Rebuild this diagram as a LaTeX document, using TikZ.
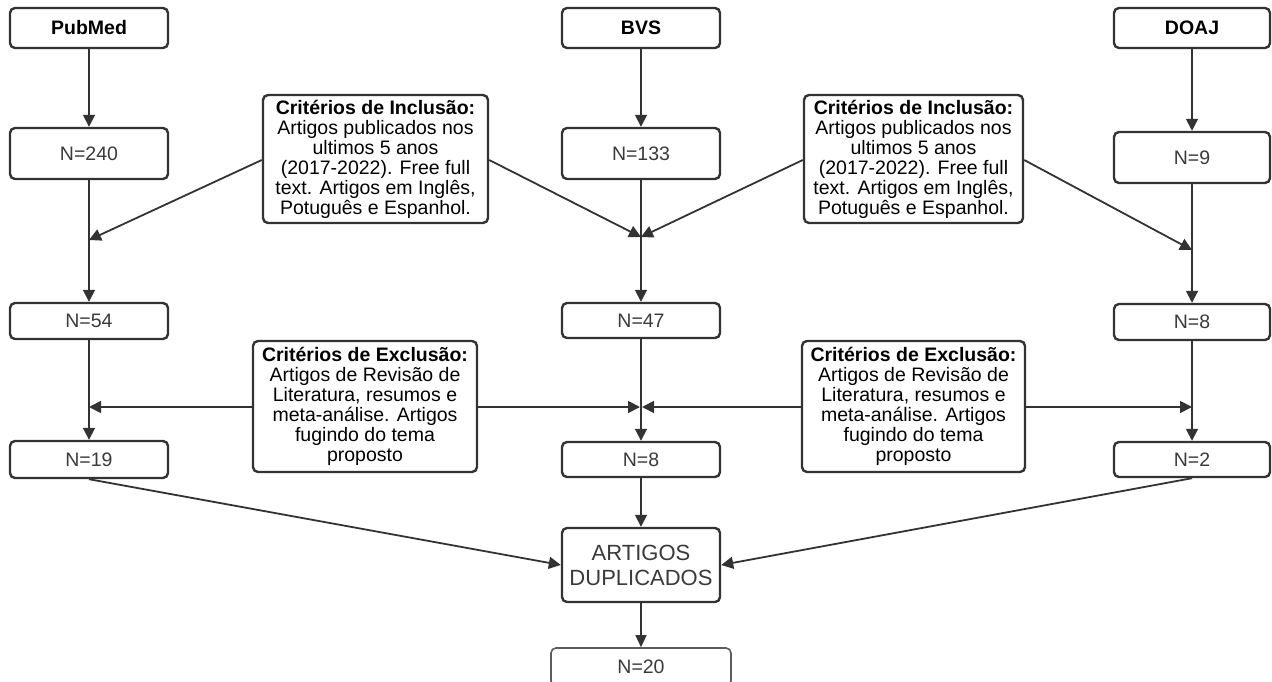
\documentclass[tikz,border=0pt]{standalone}
\usepackage{fontspec}
\setmainfont{Liberation Sans}
\usetikzlibrary{arrows.meta}
\definecolor{ln}{HTML}{333333}
\definecolor{tx}{HTML}{3A3A3A}
\begin{document}
\begin{tikzpicture}[x=1pt,y=-1pt,
  box/.style={draw=ln, line width=2.4pt, rounded corners=5pt, fill=white, inner sep=0pt,
    text=tx, font=\fontsize{19.5}{20}\selectfont, align=center},
  src/.style={box, text=black, font=\fontsize{19.5}{20}\selectfont\bfseries},
  crit/.style={box, text=black, align=center},
  conn/.style={draw=ln, line width=1.8pt, -{Triangle[length=12pt,width=12pt]}},
  thinconn/.style={draw=ln, line width=1.3pt, -{Triangle[length=12pt,width=11pt]}}]
\useasboundingbox (0,0) rectangle (1272,682);
\clip (0,0) rectangle (1272,682);
% sources
\node[src, minimum width=158pt, minimum height=40pt] (pubmed) at (89,28) {PubMed};
\node[src, minimum width=158pt, minimum height=40pt] (bvs) at (641,28) {BVS};
\node[src, minimum width=156pt, minimum height=40pt] (doaj) at (1192,28) {DOAJ};
% first counts
\node[box, minimum width=158pt, minimum height=51pt] (n240) at (89,153.5) {N=240};
\node[box, minimum width=158pt, minimum height=51pt] (n133) at (641,153.5) {N=133};
\node[box, minimum width=156pt, minimum height=51pt] (n9) at (1192,157.5) {N=9};
% inclusion criteria
\node[crit, minimum width=225pt, minimum height=128pt] (incl1) at (375.5,159)
  {\textbf{Critérios de Inclusão:}\\Artigos publicados nos\\ultimos 5 anos\\(2017-2022). Free full\\text. Artigos em Inglês,\\Potuguês e Espanhol.};
\node[crit, minimum width=219pt, minimum height=128pt] (incl2) at (913.5,159)
  {\textbf{Critérios de Inclusão:}\\Artigos publicados nos\\ultimos 5 anos\\(2017-2022). Free full\\text. Artigos em Inglês,\\Potuguês e Espanhol.};
% second counts
\node[box, minimum width=158pt, minimum height=36pt] (n54) at (89,321) {N=54};
\node[box, minimum width=158pt, minimum height=35pt] (n47) at (641,320.5) {N=47};
\node[box, minimum width=156pt, minimum height=36pt] (n8d) at (1192,322) {N=8};
% exclusion criteria
\node[crit, minimum width=224pt, minimum height=131pt] (excl1) at (365,406.5)
  {\textbf{Critérios de Exclusão:}\\Artigos de Revisão de\\Literatura, resumos e\\meta-análise. Artigos\\fugindo do tema\\proposto};
\node[crit, minimum width=223pt, minimum height=131pt] (excl2) at (913.5,406.5)
  {\textbf{Critérios de Exclusão:}\\Artigos de Revisão de\\Literatura, resumos e\\meta-análise. Artigos\\fugindo do tema\\proposto};
% third counts
\node[box, minimum width=158pt, minimum height=37pt] (n19) at (89,459.5) {N=19};
\node[box, minimum width=158pt, minimum height=35pt] (n8b) at (641,459.5) {N=8};
\node[box, minimum width=156pt, minimum height=35pt] (n2) at (1192,459.5) {N=2};
% final
\node[box, minimum width=158pt, minimum height=74pt, font=\fontsize{22}{25}\selectfont] (art) at (641,565) {ARTIGOS\\DUPLICADOS};
\node[box, draw=ln!80, line width=1.6pt, minimum width=180pt, minimum height=38pt] (n20) at (641,667) {N=20};
% junction points
\coordinate (jp1) at (89,240);
\coordinate (jb1) at (641,237);
\coordinate (jd1) at (1192,250);
\coordinate (jp2) at (89,407);
\coordinate (jb2) at (641,407);
\coordinate (jd2) at (1192,407);
% vertical flows
\draw[conn] (pubmed) -- (n240);
\draw[conn] (bvs) -- (n133);
\draw[conn] (doaj) -- (n9);
\draw[conn] (n240) -- (n54);
\draw[conn] (n133) -- (n47);
\draw[conn] (n9) -- (n8d);
\draw[conn] (n54) -- (n19);
\draw[conn] (n47) -- (n8b);
\draw[conn] (n8d) -- (n2);
\draw[conn] (n8b) -- (art);
\draw[thinconn] (art) -- (n20);
% inclusion arrows
\draw[conn] (incl1.west |- 0,160) -- (jp1);
\draw[conn] (incl1.east |- 0,160) -- (jb1);
\draw[conn] (incl2.west |- 0,160) -- (jb1);
\draw[conn] (incl2.east |- 0,160) -- (jd1);
% exclusion arrows
\draw[conn] (excl1.west |- jp2) -- (jp2);
\draw[conn] (excl1.east |- jb2) -- ([xshift=-1pt]jb2);
\draw[conn] (excl2.west |- jb2) -- ([xshift=1pt]jb2);
\draw[conn] (excl2.east |- jd2) -- (jd2);
% to duplicates
\draw[conn] (n19.south) -- (art.west);
\draw[conn] (n2.south) -- (art.east);
\end{tikzpicture}
\end{document}
